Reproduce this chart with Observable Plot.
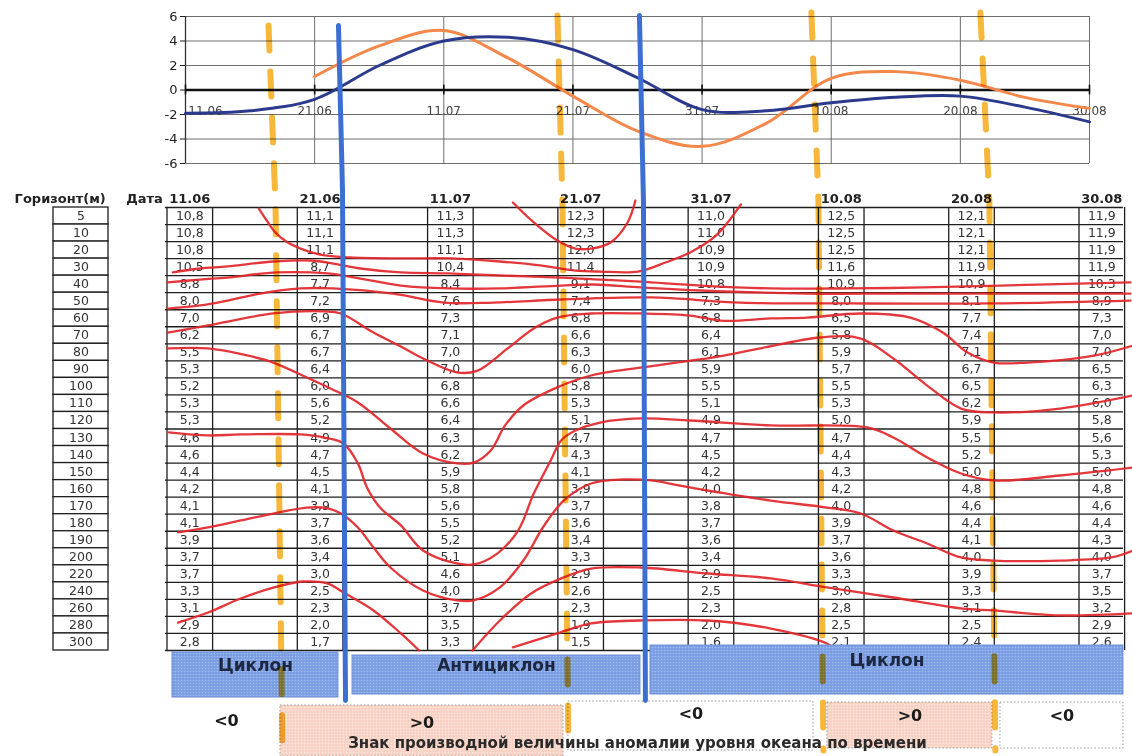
<!DOCTYPE html>
<html><head><meta charset="utf-8">
<script src="https://cdn.jsdelivr.net/npm/d3@7"></script>
<script src="https://cdn.jsdelivr.net/npm/@observablehq/plot@0.6"></script>
<style>
html,body{margin:0;padding:0;background:#fff;}
#fig{position:relative;width:1132px;height:756px;overflow:hidden;background:#fff;font-family:"DejaVu Sans",sans-serif;}
#fig svg{position:absolute;}
</style></head><body><div id="fig"></div>
<script>
// ---------- data ----------
const dates = ["11.06","21.06","11.07","21.07","31.07","10.08","20.08","30.08"];
const depths = [5,10,20,30,40,50,60,70,80,90,100,110,120,130,140,150,160,170,180,190,200,220,240,260,280,300];
const temp_1106 = [10.8,10.8,10.8,10.5,8.8,8.0,7.0,6.2,5.5,5.3,5.2,5.3,5.3,4.6,4.6,4.4,4.2,4.1,4.1,3.9,3.7,3.7,3.3,3.1,2.9,2.8];
const temp_2106 = [11.1,11.1,11.1,8.7,7.7,7.2,6.9,6.7,6.7,6.4,6.0,5.6,5.2,4.9,4.7,4.5,4.1,3.9,3.7,3.6,3.4,3.0,2.5,2.3,2.0,1.7];
const temp_1107 = [11.3,11.3,11.1,10.4,8.4,7.6,7.3,7.1,7.0,7.0,6.8,6.6,6.4,6.3,6.2,5.9,5.8,5.6,5.5,5.2,5.1,4.6,4.0,3.7,3.5,3.3];
const temp_2107 = [12.3,12.3,12.0,11.4,9.1,7.4,6.8,6.6,6.3,6.0,5.8,5.3,5.1,4.7,4.3,4.1,3.9,3.7,3.6,3.4,3.3,2.9,2.6,2.3,1.9,1.5];
const temp_3107 = [11.0,11.0,10.9,10.9,10.8,7.3,6.8,6.4,6.1,5.9,5.5,5.1,4.9,4.7,4.5,4.2,4.0,3.8,3.7,3.6,3.4,2.9,2.5,2.3,2.0,1.6];
const temp_1008 = [12.5,12.5,12.5,11.6,10.9,8.0,6.5,5.8,5.9,5.7,5.5,5.3,5.0,4.7,4.4,4.3,4.2,4.0,3.9,3.7,3.6,3.3,3.0,2.8,2.5,2.1];
const temp_2008 = [12.1,12.1,12.1,11.9,10.9,8.1,7.7,7.4,7.1,6.7,6.5,6.2,5.9,5.5,5.2,5.0,4.8,4.6,4.4,4.1,4.0,3.9,3.3,3.1,2.5,2.4];
const temp_3008 = [11.9,11.9,11.9,11.9,10.3,8.9,7.3,7.0,7.0,6.5,6.3,6.0,5.8,5.6,5.3,5.0,4.8,4.6,4.4,4.3,4.0,3.7,3.5,3.2,2.9,2.6];
const tempColumns = [temp_1106,temp_2106,temp_1107,temp_2107,temp_3107,temp_1008,temp_2008,temp_3008];

// sea level anomaly curves (position in date index, value)
const levelStep = [0,0.5,1,1.5,2,2.5,3,3.5,4,4.5,5,5.5,6,6.5,7];
const levelBlue = [-1.9,-1.7,-0.76,2.0,4.0,4.3,3.3,1.0,-1.6,-1.7,-1.05,-0.6,-0.5,-1.4,-2.6];
const levelOrangeStep = [1,1.5,2,2.5,3,3.5,4,4.5,5,5.5,6,6.5,7];
const levelOrange = [1.1,3.6,4.85,2.6,-0.5,-3.35,-4.6,-2.7,0.95,1.5,0.8,-0.6,-1.5];
const yTicks = [-6,-4,-2,0,2,4,6];

// hand-drawn isotherms: [date index, depth row index]
const iso_a = [[0.54,-0.44],[0.60,0.26],[0.66,0.91],[0.75,1.50],[0.86,1.91],[1.01,2.26],[1.24,2.43],[1.63,2.49],[2.01,2.49],[2.39,2.67],[2.70,2.90],[2.97,3.20],[3.16,3.26],[3.45,3.26],[3.66,2.73],[3.85,2.14],[4.05,1.14],[4.24,-0.68]];
const iso_b = [[-0.12,3.31],[0.09,3.08],[0.30,2.96],[0.65,2.67],[0.94,2.61],[1.11,2.79],[1.32,3.08],[1.63,3.31],[2.00,3.37],[2.39,3.49],[2.86,3.61],[3.16,3.73],[3.47,3.85],[3.93,4.08],[4.47,4.25],[5.08,4.25],[5.64,4.19],[6.23,4.08],[7.23,3.90]];
const iso_c = [[-0.16,3.90],[0.09,3.73],[0.30,3.61],[0.68,3.31],[1.07,3.37],[1.32,3.67],[1.63,4.08],[2.00,4.25],[2.39,4.25],[2.86,4.08],[3.11,4.02],[3.47,4.19],[3.93,4.37],[4.75,4.55],[5.46,4.55],[6.23,4.55],[7.23,4.55]];
const iso_d = [[-0.16,5.43],[0.09,5.25],[0.30,4.96],[0.55,4.55],[0.86,4.25],[1.11,4.25],[1.57,4.55],[1.96,5.08],[2.34,5.08],[2.86,4.90],[3.55,4.78],[4.24,5.08],[5.08,5.13],[6.16,5.13],[7.23,4.96]];
const iso_e = [[-0.16,6.84],[0.15,6.42],[0.65,5.72],[1.04,5.60],[1.17,5.72],[1.42,6.84],[1.63,7.66],[1.80,8.36],[2.06,9.18],[2.22,9.07],[2.45,7.77],[2.65,6.60],[2.83,5.96],[3.09,5.72],[3.49,5.72],[3.85,5.84],[4.11,6.15],[4.47,6.01],[4.75,5.96],[5.16,5.72],[5.54,5.96],[5.79,6.84],[5.98,8.01],[6.18,8.60],[6.44,8.60],[6.95,8.19],[7.25,7.60]];
const iso_f = [[-0.16,7.77],[0.15,7.77],[0.45,8.18],[0.65,8.60],[0.91,9.48],[1.09,10.12],[1.30,10.94],[1.55,12.47],[1.80,13.94],[2.06,14.52],[2.19,14.47],[2.32,13.76],[2.43,12.29],[2.57,11.12],[2.83,10.06],[3.09,9.36],[3.60,8.77],[4.11,8.19],[4.39,7.77],[4.85,7.13],[5.16,7.19],[5.41,8.36],[5.67,9.95],[5.93,11.30],[6.18,11.53],[6.69,11.30],[7.25,10.53]];
const iso_g = [[-0.15,12.70],[0.15,12.88],[0.40,12.82],[0.86,12.82],[1.04,13.00],[1.19,13.35],[1.30,14.52],[1.37,15.93],[1.47,17.11],[1.63,18.16],[1.80,19.63],[2.06,20.39],[2.19,20.45],[2.37,19.81],[2.53,18.46],[2.65,16.29],[2.78,14.35],[2.86,13.17],[2.97,12.59],[3.16,12.12],[3.47,11.88],[3.85,12.00],[4.47,12.29],[5.21,12.41],[5.41,13.00],[5.67,14.17],[5.93,15.11],[6.18,15.52],[6.69,15.23],[7.25,14.76]];
const iso_h = [[-0.08,18.57],[0.15,18.28],[0.40,17.87],[0.65,17.46],[0.91,17.11],[1.07,17.16],[1.17,17.46],[1.30,18.28],[1.42,19.45],[1.55,20.63],[1.80,21.98],[2.06,22.56],[2.19,22.56],[2.39,21.80],[2.57,20.22],[2.72,18.28],[2.88,16.70],[3.09,15.70],[3.34,15.46],[3.55,15.52],[3.85,15.93],[4.47,16.70],[4.90,17.11],[5.16,17.46],[5.41,18.46],[5.67,19.22],[5.93,20.04],[6.18,20.22],[6.69,20.22],[7.08,20.04],[7.25,19.63]];
const iso_i = [[-0.08,23.86],[0.15,23.27],[0.40,22.45],[0.65,21.81],[0.88,21.45],[1.07,21.57],[1.19,22.10],[1.42,23.15],[1.63,24.50],[1.77,25.50]];
const iso_j = [[2.18,25.50],[2.39,23.74],[2.63,22.15],[2.88,21.21],[3.09,20.69],[3.47,20.63],[3.98,20.98],[4.47,21.27],[4.90,21.80],[5.41,22.39],[5.93,23.03],[6.18,23.15],[6.69,23.44],[7.25,23.32]];
const iso_k = [[2.49,25.32],[2.83,24.50],[3.09,23.91],[3.47,23.74],[3.98,23.74],[4.47,24.21],[4.90,25.09],[4.95,25.38]];
const iso_u = [[2.49,-0.79],[2.65,0.38],[2.83,1.44],[2.97,1.91],[3.09,1.91],[3.24,1.55],[3.37,0.38],[3.43,-0.91]];
const isotherms = [iso_a,iso_b,iso_c,iso_d,iso_e,iso_f,iso_g,iso_h,iso_i,iso_j,iso_k,iso_u];

// boundaries: [date index, fraction of figure height]
const yellowBounds = [
  [[0.614,0.033],[0.668,0.271],[0.721,0.992]],
  [[2.832,0.020],[2.870,0.265],[2.916,0.992]],
  [[4.781,0.016],[4.835,0.265],[4.873,0.992]],
  [[6.078,0.016],[6.147,0.265],[6.193,0.992]]
];
const blueBounds = [
  [[1.151,0.033],[1.182,0.251],[1.205,0.926]],
  [[3.461,0.020],[3.492,0.265],[3.507,0.926]]
];

// periods (date index)
const synopticPeriods = [
  {label:"Циклон", from:-0.123, to:1.151},
  {label:"Антициклон", from:1.259, to:3.469},
  {label:"Циклон", from:3.546, to:7.176}
];
const signPeriods = [
  {label:"<0", from:-0.123, to:0.706},
  {label:">0", from:0.706, to:2.878},
  {label:"<0", from:2.916, to:4.797},
  {label:">0", from:4.904, to:6.170},
  {label:"<0", from:6.232, to:7.176}
];
const caption = "Знак производной величины аномалии уровня океана по времени";

// ---------- drawing ----------
const fig = document.getElementById("fig");
const FONT = "DejaVu Sans";
const fmt = v => v.toFixed(1).replace(".", ",");
const baseStyle = {fontFamily: FONT, background: "transparent", overflow: "visible", color: "#222"};
function place(svg, left, top) { svg.style.left = left + "px"; svg.style.top = top + "px"; fig.appendChild(svg); return svg; }

// top chart
const blueData = levelStep.map((x, i) => ({x, v: levelBlue[i]}));
const orangeData = levelOrangeStep.map((x, i) => ({x, v: levelOrange[i]}));
const topChart = Plot.plot({
  width: 1132, height: 175, marginLeft: 185, marginRight: 43, marginTop: 16, marginBottom: 12,
  x: {domain: [0, 7], axis: null},
  y: {domain: [-6, 6], axis: null},
  style: baseStyle,
  marks: [
    Plot.ruleY(yTicks.filter(v => v !== 0), {stroke: "#6e6e6e", strokeWidth: 1}),
    Plot.ruleX(d3.range(1, 8), {stroke: "#6e6e6e", strokeWidth: 1}),
    Plot.ruleX([0], {stroke: "#333", strokeWidth: 1.3}),
    Plot.axisY({ticks: yTicks, tickSize: 5, tickPadding: 3, tickFormat: d => String(d), fontSize: 13, label: null}),
    Plot.text(dates.slice(1), {x: (d, i) => i + 1, y: 0, dy: 21, text: d => d, fontSize: 12, fill: "#444"}),
    Plot.text(dates.slice(0, 1), {x: 0, y: 0, dy: 21, dx: 20, text: d => d, fontSize: 12, fill: "#444"}),
    Plot.ruleY([0], {stroke: "#111", strokeWidth: 2.5}),
    Plot.ruleX(d3.range(0, 8), {y1: -0.4, y2: 0.4, stroke: "#111", strokeWidth: 1.6}),
    Plot.line(orangeData, {x: "x", y: "v", stroke: "#f4884a", strokeWidth: 3, curve: "catmull-rom"}),
    Plot.line(blueData, {x: "x", y: "v", stroke: "#2c3a8e", strokeWidth: 3, curve: "catmull-rom"})
  ]
});
place(topChart, 0, 0);

// depth column
const depthPlot = Plot.plot({
  width: 160, height: 470, marginLeft: 53, marginRight: 52, marginTop: 22, marginBottom: 5,
  x: {domain: [0, 1], range: [53, 108], axis: null},
  y: {domain: [-0.5, 25.5], range: [22, 465], axis: null},
  style: baseStyle,
  marks: [
    Plot.rect(depths, {x1: 0, x2: 1, y1: (d, i) => i - 0.5, y2: (d, i) => i + 0.5, fill: "white", stroke: "#1e1e1e", strokeWidth: 1.3}),
    Plot.text(depths, {x: 0.5, y: (d, i) => i, text: d => String(d), fontSize: 12.5, fill: "#333"}),
    Plot.text(["Горизонт(м)"], {x: 0.95, y: -0.5, dy: -9, textAnchor: "end", text: d => d, fontSize: 13, fontWeight: "bold", fill: "#222"})
  ]
});
place(depthPlot, 0, 185);

// temperature table
const cells = tempColumns.flatMap((col, i) => col.map((v, k) => ({col: i, row: k, v})));
const colEdges = dates.flatMap((d, i) => [i - 0.165, i + 0.185]);
const rowEdges = d3.range(-0.5, depths.length, 1);
const isoPoints = isotherms.flatMap((line, id) => line.map(([t, r]) => ({id, t, r})));
const table = Plot.plot({
  width: 1132, height: 470, marginLeft: 188, marginRight: 32, marginTop: 22, marginBottom: 5,
  x: {domain: [0, 7], axis: null},
  y: {domain: [-0.5, 25.5], range: [22, 465], axis: null},
  style: baseStyle,
  marks: [
    Plot.ruleY(rowEdges, {x1: -0.177, x2: 7.176, stroke: "#1e1e1e", strokeWidth: 1.3}),
    Plot.ruleX(colEdges, {y1: -0.5, y2: 25.5, stroke: "#1e1e1e", strokeWidth: 1.3}),
    Plot.text(cells, {x: d => d.col + 0.01, y: "row", text: d => fmt(d.v), fontSize: 12.5, fill: "#333"}),
    Plot.text(dates, {x: (d, i) => i + 0.01, y: -0.5, dy: -9, text: d => d, fontSize: 13, fontWeight: "bold", fill: "#222"}),
    Plot.text(["Дата"], {x: -0.338, y: -0.5, dy: -9, text: d => d, fontSize: 13, fontWeight: "bold", fill: "#222"}),
    Plot.line(isoPoints, {x: "t", y: "r", z: "id", stroke: "#e2262a", strokeWidth: 2.3, strokeOpacity: 0.92, curve: "catmull-rom"})
  ]
});
place(table, 0, 185);

// bottom: synoptic situation and sign of derivative
const bottom = Plot.plot({
  width: 1132, height: 116, marginLeft: 188, marginRight: 32, marginTop: 0, marginBottom: 0,
  x: {domain: [0, 7], axis: null},
  y: {type: "band", domain: ["synoptic", "sign"], range: [2, 116], paddingInner: 0.07, paddingOuter: 0, axis: null},
  style: baseStyle,
  marks: [
    ...synopticPeriods.map((p, i) => Plot.barX([p], {x1: "from", x2: "to", y: () => "synoptic",
      fill: "url(#dotBlue)", stroke: "#6a8fd6", strokeWidth: 1,
      insetTop: [10, 13, 3][i], insetBottom: [0, 3, 3][i]})),
    ...signPeriods.map((p, i) => Plot.barX([p], {x1: "from", x2: "to", y: () => "sign",
      fill: p.label === ">0" ? "url(#dotPink)" : "none",
      stroke: i === 0 ? "none" : "#9a9a9a", strokeWidth: 1, strokeDasharray: "1.5,2",
      insetTop: [0, 4, 0, 1, 1][i], insetBottom: [0, 0, 6, 8, 8][i]})),
    ...synopticPeriods.map((p, i) => Plot.text([p], {x: d => (d.from + d.to) / 2, y: () => "synoptic", dy: [-4.5, -4.5, -9.5][i],
      text: "label", fontSize: 17, fontWeight: "bold", fill: "#1d2740"})),
    ...signPeriods.map((p, i) => Plot.text([p], {x: d => (d.from + d.to) / 2, y: () => "sign", dy: [-8.5, -6.5, -15.5, -13.5, -13.5][i],
      text: "label", fontSize: 16, fontWeight: "bold", fill: "#1b1b1b"})),
    Plot.text([caption], {x: 3.446, y: () => "sign", dy: 14.5, text: d => d, fontSize: 15, fontWeight: "bold", fill: "#2a2a2a"})
  ]
});
const ns = "http://www.w3.org/2000/svg";
const defs = document.createElementNS(ns, "defs");
defs.innerHTML = '<pattern id="dotBlue" width="3" height="3" patternUnits="userSpaceOnUse"><rect width="3" height="3" fill="#7b9ee2"/><circle cx="1.5" cy="1.5" r="0.8" fill="#a4bdef"/></pattern>' +
  '<pattern id="dotPink" width="3" height="3" patternUnits="userSpaceOnUse"><rect width="3" height="3" fill="#f7d2c4"/><circle cx="1.5" cy="1.5" r="0.8" fill="#fce9e2"/></pattern>';
bottom.insertBefore(defs, bottom.firstChild);
place(bottom, 0, 640);

// boundary overlays
const overlayOpts = {
  width: 1132, height: 756, marginLeft: 188, marginRight: 32, marginTop: 0, marginBottom: 0,
  x: {domain: [0, 7], axis: null},
  y: {domain: [0, 1], range: [0, 756], axis: null},
  style: baseStyle
};
const yellowPts = yellowBounds.flatMap((line, id) => line.map(([t, f]) => ({id, t, f})));
const bluePts = blueBounds.flatMap((line, id) => line.map(([t, f]) => ({id, t, f})));
const yellowLayer = Plot.plot({...overlayOpts, marks: [
  Plot.line(yellowPts, {x: "t", y: "f", z: "id", stroke: "#f6b73a", strokeWidth: 6, strokeDasharray: "25,21"})
]});
yellowLayer.style.mixBlendMode = "multiply";
yellowLayer.style.pointerEvents = "none";
place(yellowLayer, 0, 0);
const blueLayer = Plot.plot({...overlayOpts, marks: [
  Plot.line(bluePts, {x: "t", y: "f", z: "id", stroke: "#3d6fd3", strokeWidth: 5, strokeLinecap: "round"})
]});
blueLayer.style.pointerEvents = "none";
place(blueLayer, 0, 0);
</script></body></html>
